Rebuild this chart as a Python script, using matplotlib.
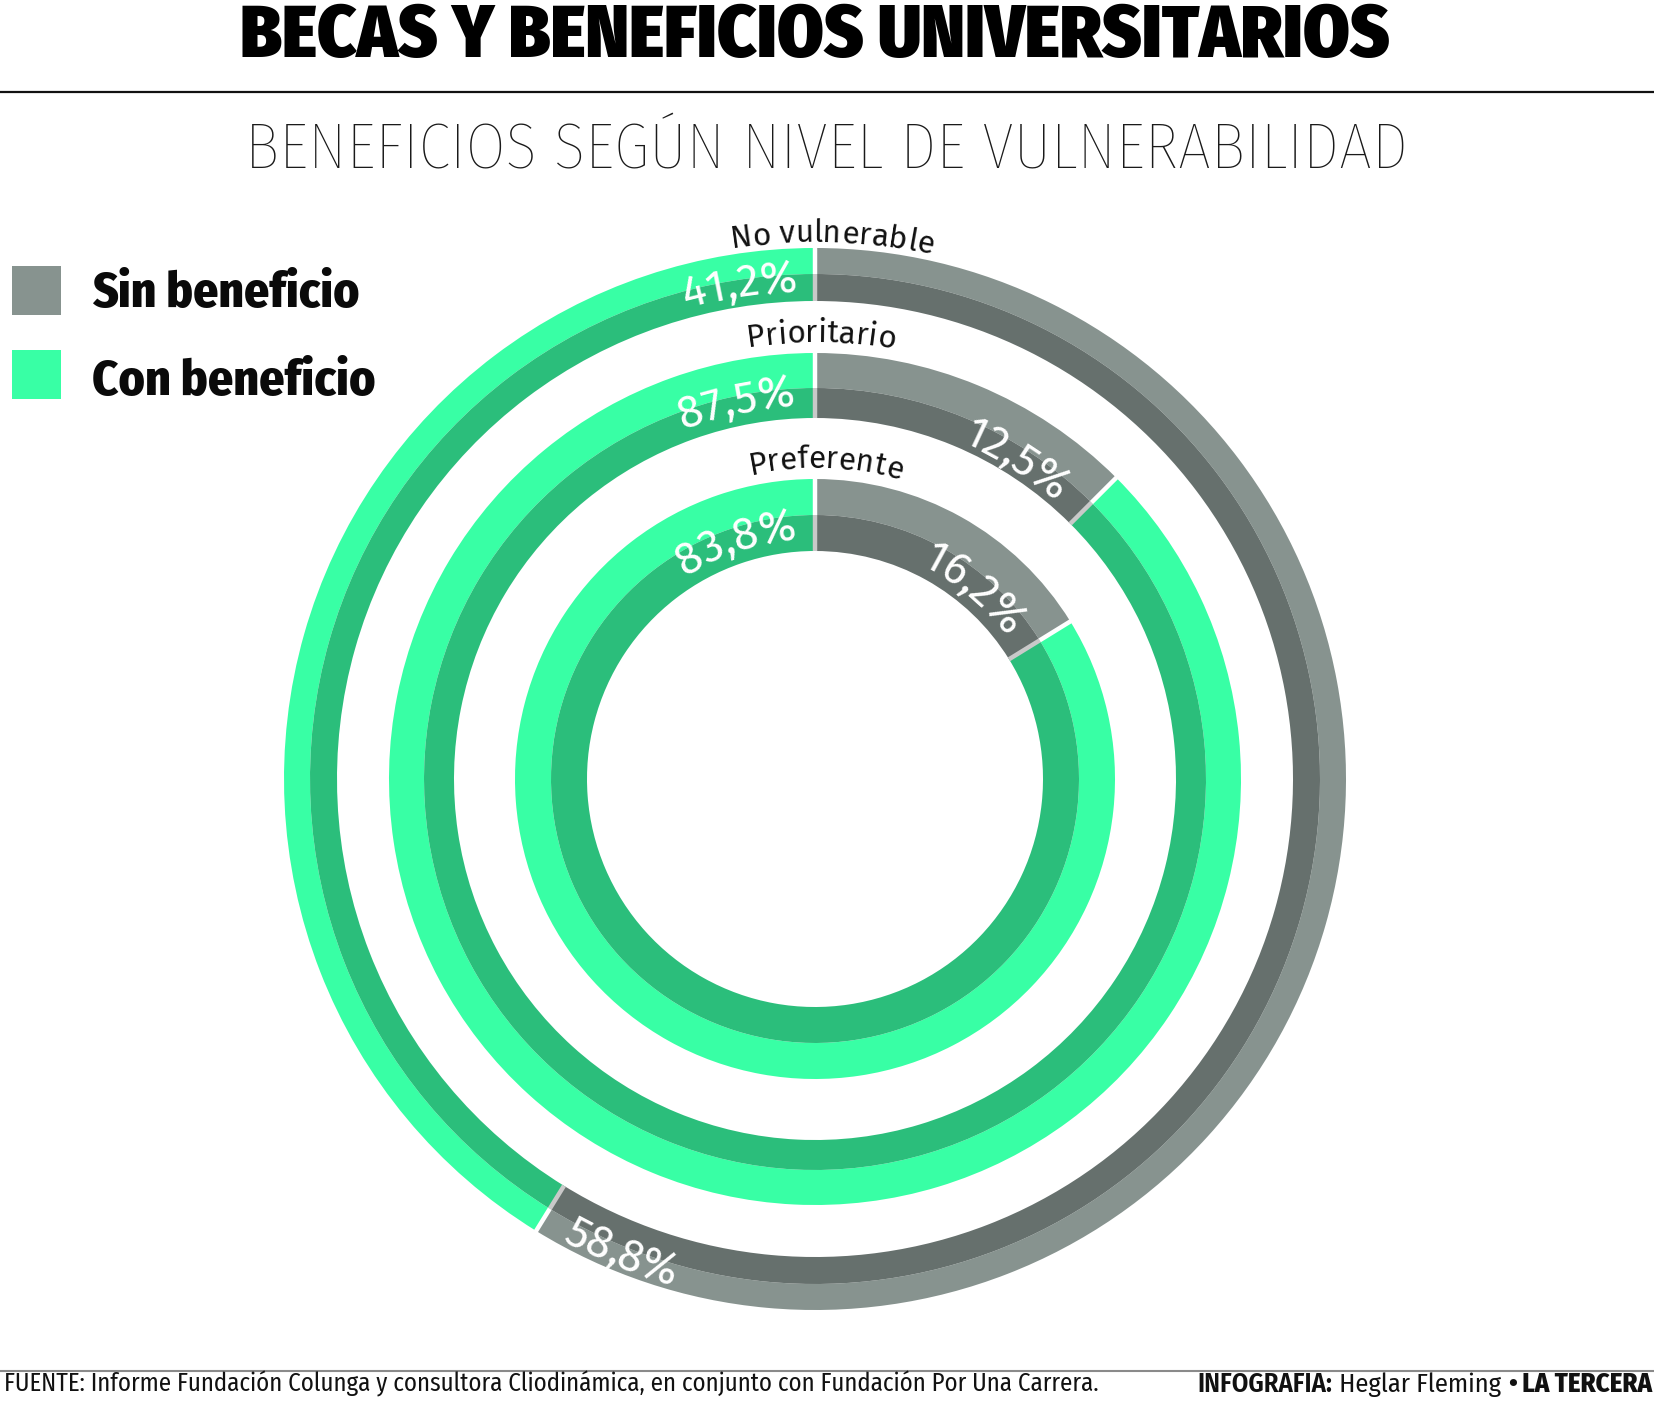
import numpy as np
import matplotlib
matplotlib.use('Agg')
import matplotlib.pyplot as plt
from matplotlib.font_manager import FontProperties
from matplotlib.patches import Rectangle

W, H = 1654, 1405

titulo = 'BECAS Y BENEFICIOS UNIVERSITARIOS'
subtitulo = 'BENEFICIOS SEGÚN NIVEL DE VULNERABILIDAD'
niveles = ['No vulnerable', 'Prioritario', 'Preferente']
sin_beneficio = [58.8, 12.5, 16.2]
con_beneficio = [41.2, 87.5, 83.8]
series = ['Sin beneficio', 'Con beneficio']
fuente = 'FUENTE: Informe Fundación Colunga y consultora Cliodinámica, en conjunto con Fundación Por Una Carrera.'
credito = [('INFOGRAFIA:', 600), (' Heglar Fleming ', 'normal'), ('•', 'bold'), (' LA TERCERA', 800)]

verde_claro, verde_osc = '#38FFA5', '#2BBE7B'
gris_claro, gris_osc = '#87938F', '#66706D'

COND = ['Fira Sans Condensed', 'Open Sans Condensed', 'IBM Plex Sans Condensed', 'DejaVu Sans']
COND_FINA = ['Fira Sans Condensed', 'IBM Plex Sans Condensed', 'DejaVu Sans']
SANS = ['Fira Sans', 'Open Sans', 'DejaVu Sans']


def pct(v):
    return f'{v:.1f}'.replace('.', ',') + '%'


def Y(y):
    # coordenadas tomadas de arriba hacia abajo
    return H - y


fig = plt.figure(figsize=(W / 100, H / 100), dpi=100)
ax = fig.add_axes([0, 0, 1, 1])
ren = fig.canvas.get_renderer()


def ancho(s, fp):
    return ren.get_text_width_height_descent(s, fp, ismath=False)[0]


def talla(s, family, weight, target):
    fp = FontProperties(family=family, weight=weight, size=40)
    return 40 * target / ancho(s, fp)


def texto_ajustado(s, x, y, target, family, weight='normal', ha='center', color='black'):
    size = talla(s, family, weight, target)
    ax.text(x, Y(y), s, fontsize=size, family=family, weight=weight,
            ha=ha, va='baseline', color=color)


# anillos
cx, cy = 815, Y(779)
radios = [(531, 505, 478), (426, 391, 361), (300, 264, 228)]

for i in range(3):
    r_out, r_mid, r_in = radios[i]
    vals = [sin_beneficio[i], con_beneficio[i]]
    ax.pie(vals, colors=[gris_claro, verde_claro], startangle=90, counterclock=False,
           radius=r_out, center=(cx, cy), frame=True,
           wedgeprops=dict(width=r_out - r_mid, linewidth=0))
    ax.pie(vals, colors=[gris_osc, verde_osc], startangle=90, counterclock=False,
           radius=r_mid, center=(cx, cy), frame=True,
           wedgeprops=dict(width=r_mid - r_in, linewidth=0))
    # separadores
    for ang in [90, 90 - sin_beneficio[i] * 3.6]:
        t = np.radians(ang)
        ax.plot([cx + r_in * np.cos(t), cx + r_mid * np.cos(t)],
                [cy + r_in * np.sin(t), cy + r_mid * np.sin(t)],
                color='#C9C9C9', lw=3.2, solid_capstyle='butt')
        ax.plot([cx + r_mid * np.cos(t), cx + (r_out + 1) * np.cos(t)],
                [cy + r_mid * np.sin(t), cy + (r_out + 1) * np.sin(t)],
                color='white', lw=3.2, solid_capstyle='butt')


def texto_curvo(s, ang_cw, r, size, color, family, weight='normal', abajo=False):
    fp = FontProperties(family=family, weight=weight, size=size)
    # avance de cada prefijo, medido entre dos barras "I"
    base = ancho('II', fp)
    pos = [ancho('I' + s[:i] + 'I', fp) - base if i else 0.0 for i in range(len(s) + 1)]
    total = pos[-1]
    tc = np.radians(90 - ang_cw)
    for i, ch in enumerate(s):
        if ch == ' ':
            continue
        sc = (pos[i] + pos[i + 1]) / 2 - total / 2
        if abajo:
            t = tc + sc / r
            rot = np.degrees(t) + 90
        else:
            t = tc - sc / r
            rot = np.degrees(t) - 90
        ax.text(cx + r * np.cos(t), cy + r * np.sin(t), ch, rotation=rot,
                rotation_mode='anchor', ha='center', va='baseline',
                fontproperties=fp, color=color)


# nombres de los anillos
t_nivel = talla(niveles[0], SANS, 'normal', 202)
for nombre, ang, r in zip(niveles, [1.8, 0.8, 2.0], [537, 437, 311]):
    texto_curvo(nombre, ang, r, t_nivel, '#111111', SANS)

# porcentajes
t_pct = talla('41,2%', SANS, 'normal', 114)
for v, ang, r in zip(con_beneficio, [-8.7, -11.8, -18.4], [488, 374, 241]):
    texto_curvo(pct(v), ang, r, t_pct, 'white', SANS)
for v, ang, r, ab in zip(sin_beneficio, [202.2, 32.3, 40.0], [526, 367, 238], [True, False, False]):
    texto_curvo(pct(v), ang, r, t_pct, 'white', SANS, abajo=ab)

# titulos
texto_ajustado(titulo, 815, 57, 1150, COND, 900)
ax.plot([0, W], [Y(92), Y(92)], color='#111111', lw=1.6)
texto_ajustado(subtitulo, 826, 168, 1161, COND_FINA, 200, color='#1a1a1a')

# leyenda
for nombre, color, top, base, w in zip(series, [gris_claro, verde_claro], [266, 350], [307, 395], [267, 283]):
    ax.add_patch(Rectangle((12, Y(top + 49)), 49, 49, color=color, lw=0))
    texto_ajustado(nombre, 92, base, w, COND, 800, ha='left', color='#0a0a0a')

# pie de pagina
ax.plot([0, W], [Y(1371), Y(1371)], color='#8a8a8a', lw=1.5)
texto_ajustado(fuente, 4, 1392, 1096, COND_FINA, 'normal', ha='left', color='#111111')

fp0 = [FontProperties(family=COND, weight=wt, size=20) for _, wt in credito]
tot = sum(ancho(s.replace(' ', '\u00a0'), fp) for (s, _), fp in zip(credito, fp0))
esc = 454 / tot
x = 1651 - 454
for (s, wt), fp in zip(credito, fp0):
    ax.text(x, Y(1392), s, fontsize=20 * esc, family=COND, weight=wt,
            ha='left', va='baseline', color='#111111')
    x += ancho(s.replace(' ', '\u00a0'), fp) * esc

ax.set_xlim(0, W)
ax.set_ylim(0, H)
ax.set_aspect('auto')
ax.axis('off')

fig.savefig('out.png', dpi=100, facecolor='white')
